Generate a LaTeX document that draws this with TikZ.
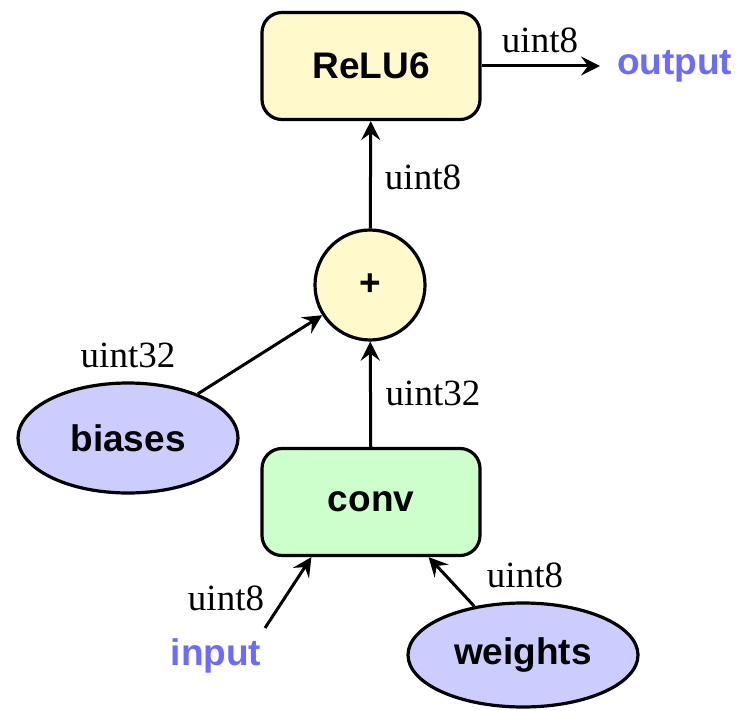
\documentclass[tikz,border=0pt]{standalone}
\usepackage{fontspec}
\setmainfont{Liberation Serif}
\newfontfamily\lsans{Liberation Sans}
\usetikzlibrary{shapes.geometric,arrows.meta,calc}
\definecolor{cyellow}{HTML}{FFF9CC}
\definecolor{cgreen}{HTML}{CCFFCC}
\definecolor{clav}{HTML}{CCCCFF}
\definecolor{cblue}{HTML}{6B6BFF}
\begin{document}
\begin{tikzpicture}[x=1pt,y=-1pt,
  every node/.style={font=\fontsize{37}{44}\selectfont},
  opbox/.style={draw,line width=3.2pt,rounded corners=20pt,minimum width=218pt,minimum height=107pt,inner sep=0pt,font=\lsans\bfseries\fontsize{37}{44}\selectfont},
  oval/.style={draw,ellipse,line width=3.2pt,fill=clav,inner sep=0pt,font=\lsans\bfseries\fontsize{37}{44}\selectfont},
  io/.style={inner sep=0pt,text=cblue,font=\lsans\bfseries\fontsize{37}{44}\selectfont},
  lbl/.style={inner sep=0pt,anchor=base,font=\fontsize{37}{44}\selectfont},
  arr/.style={line width=3pt,-{Stealth[length=19pt,width=19pt,inset=7pt]}}]
\useasboundingbox (0,0) rectangle (741,711);
\node[opbox,fill=cyellow] (relu) at (371,66) {ReLU6};
\node[draw,circle,line width=3.2pt,fill=cyellow,minimum size=110pt,inner sep=0pt,font=\lsans\bfseries\fontsize{37}{44}\selectfont] (plus) at (370,285) {+};
\node[opbox,fill=cgreen] (conv) at (371,502) {conv};
\node[oval,minimum width=220pt,minimum height=110pt] (biases) at (128,438) {biases};
\node[oval,minimum width=230pt,minimum height=104pt] (weights) at (523,655) {weights};
\node[io,anchor=base west] (output) at (617,75) {output};
\node[io,anchor=base] (input) at (216,665) {input};
\coordinate (outend) at ($(relu.east -| output.west)+(-17,0)$);
\draw[arr] (relu.east) -- (outend);
\draw[arr] (plus) -- (relu);
\draw[arr] (conv) -- (plus);
\draw[arr] (biases) -- (plus);
\draw[arr] ($(input.north)+(49,-10)$) -- ($(conv.south west)+(51,0)$);
\draw[arr] (weights.135) -- ($(conv.south east)+(-53,0)$);
\node[lbl] (l1) at (540,53) {uint8};
\node[lbl] (l2) at (423,190) {uint8};
\node[lbl] (l3) at (433,405) {uint32};
\node[lbl] (l4) at (128,367) {uint32};
\node[lbl] (l5) at (226,610) {uint8};
\node[lbl] (l6) at (525,587) {uint8};
\end{tikzpicture}
\end{document}
